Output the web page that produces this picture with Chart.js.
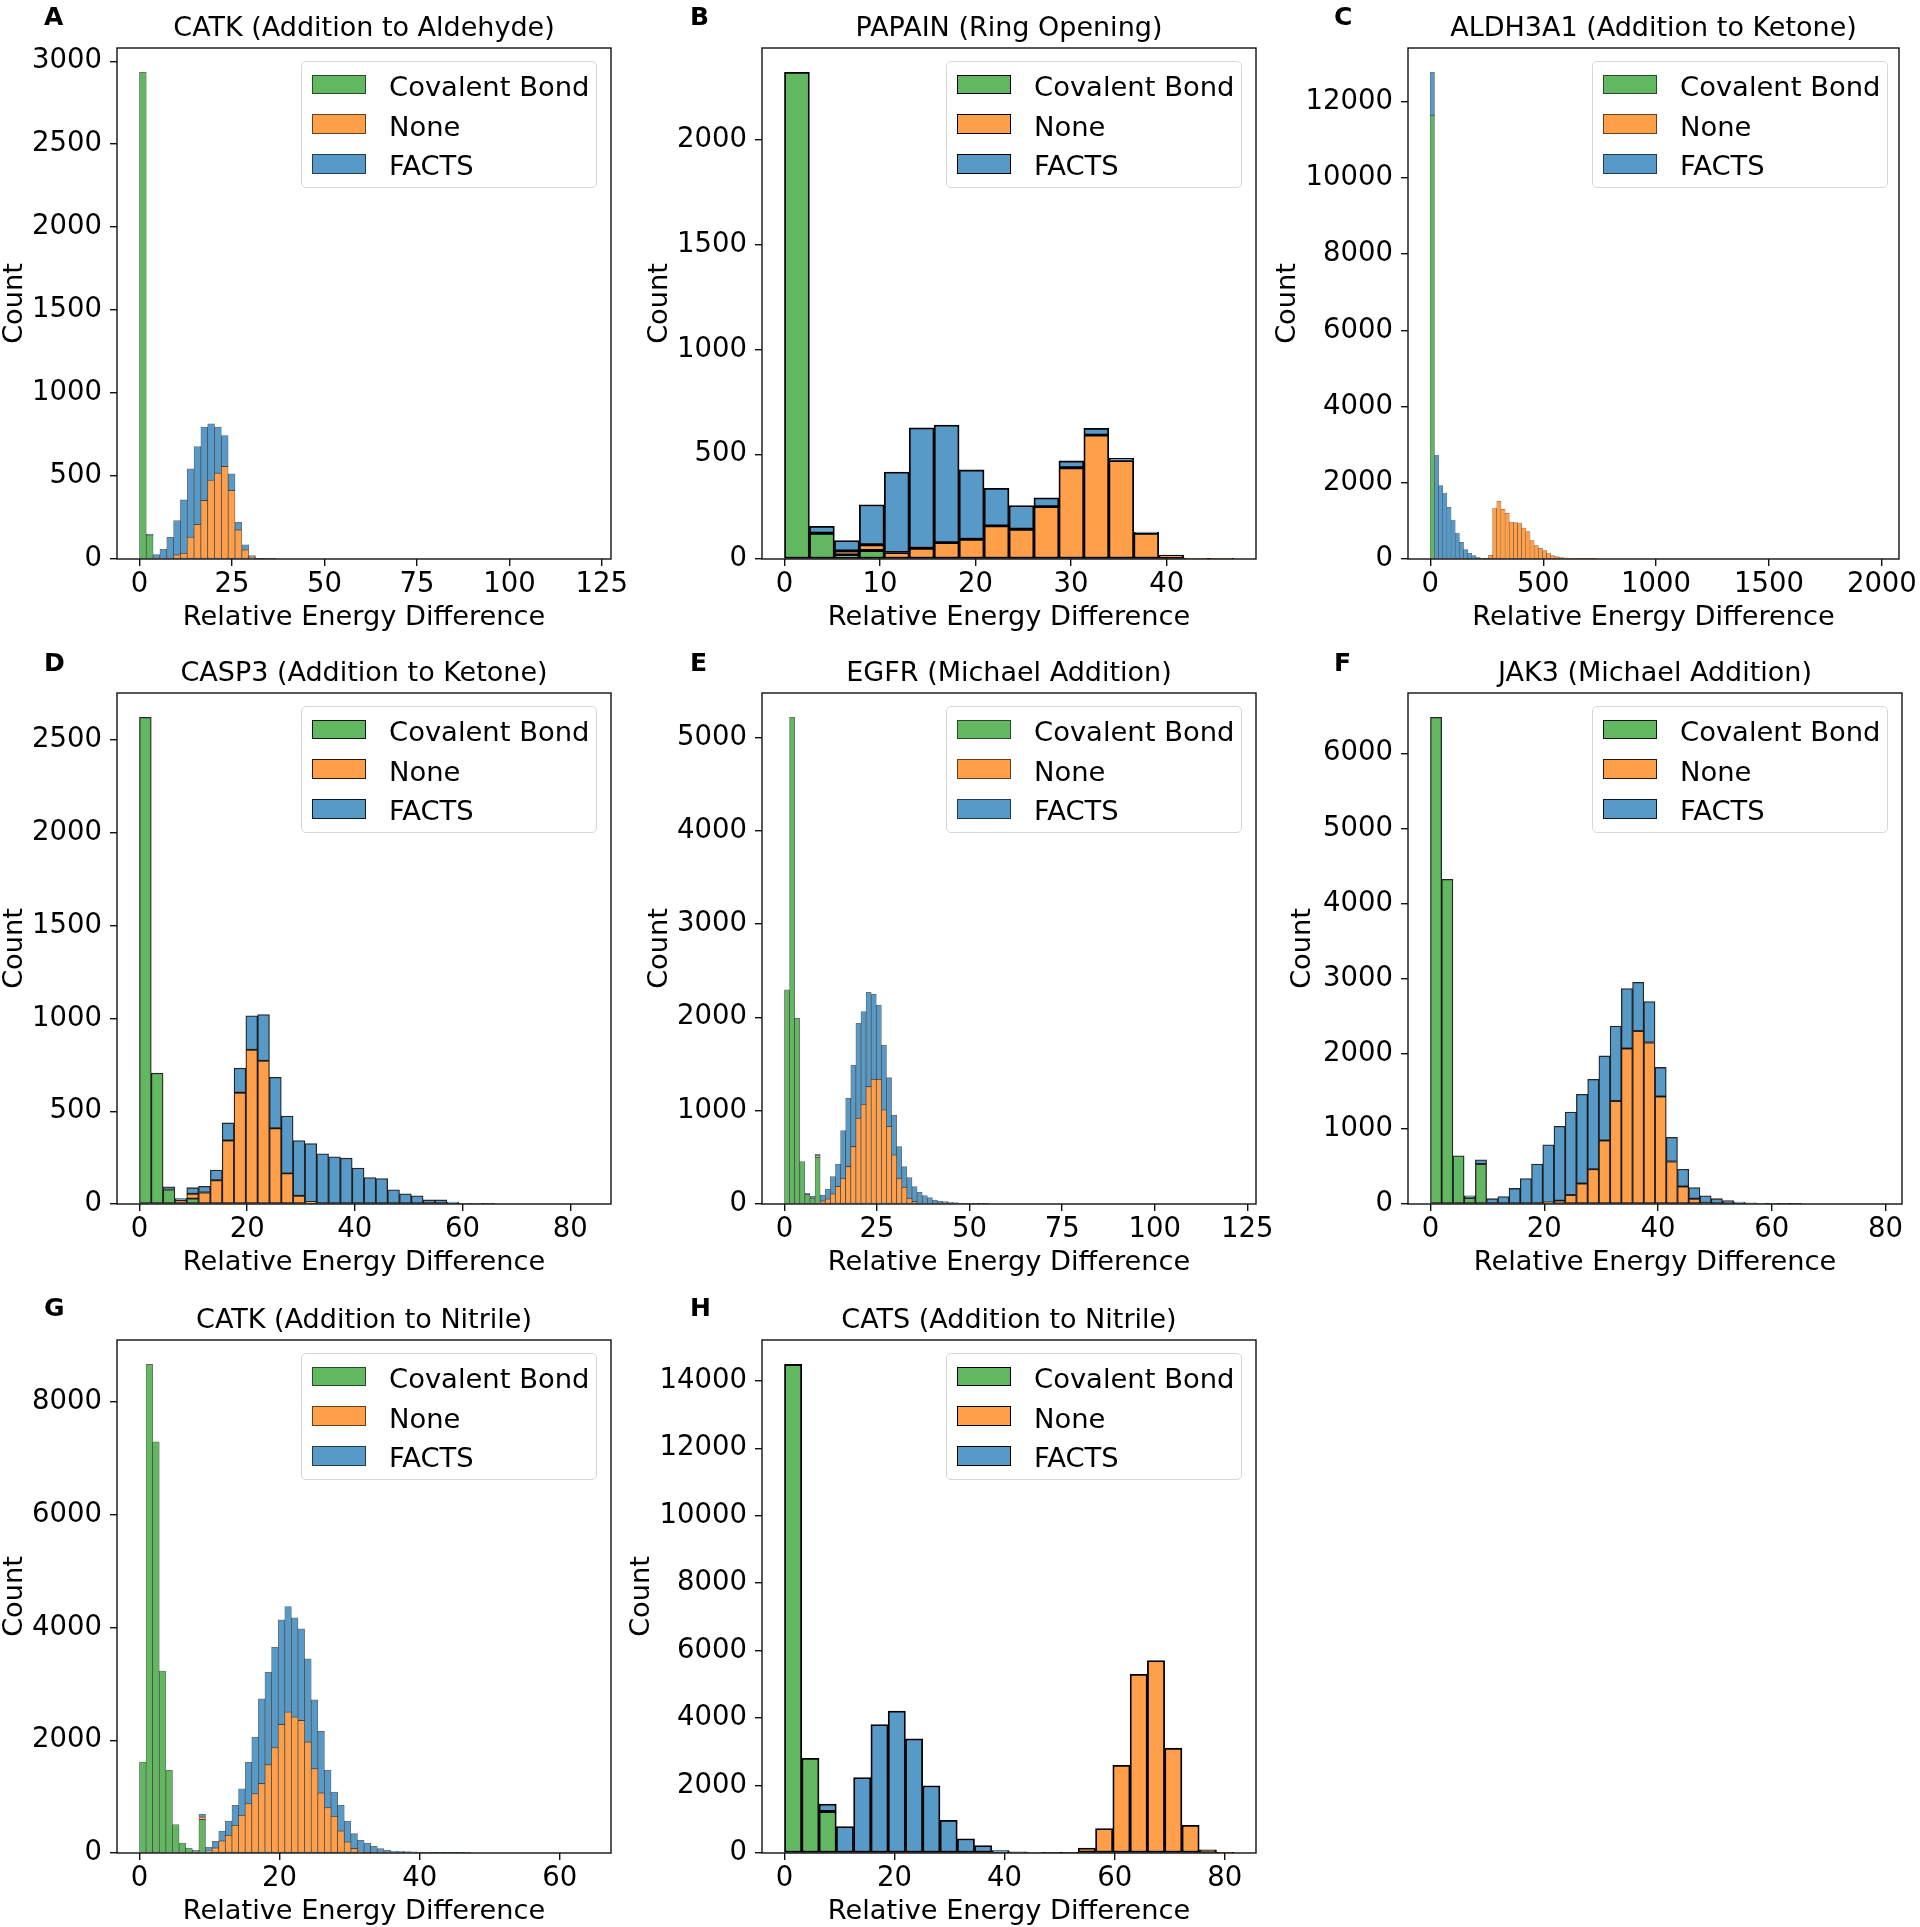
<!DOCTYPE html>
<html>
<head>
<meta charset="utf-8">
<script src="https://cdn.jsdelivr.net/npm/chart.js@4.4.1/dist/chart.umd.min.js"></script>
<style>
  html, body { margin: 0; padding: 0; background: #fff; }
  body { width: 1920px; height: 1927px; position: relative; overflow: hidden; font-family: 'DejaVu Sans', sans-serif; }
  canvas { position: absolute; }
  .letter { position: absolute; font-weight: bold; font-size: 25px; line-height: 25px; color: #000; }
  .legend { position: absolute; width: 296px; height: 127px; box-sizing: border-box; border: 1px solid #d6d6d6; border-radius: 5px; background: rgba(255,255,255,0.8); }
  .legend .sw { position: absolute; left: 10px; width: 54px; height: 19.5px; box-sizing: border-box; }
  .legend .tx { position: absolute; left: 87px; font-size: 27.4px; line-height: 27px; white-space: nowrap; color: #000; }
</style>
</head>
<body>
<script>
// series names, in stacking order (bottom first)
const seriesNames = ['Covalent Bond', 'None', 'FACTS'];

const titles = [
  'CATK (Addition to Aldehyde)', 'PAPAIN (Ring Opening)', 'ALDH3A1 (Addition to Ketone)',
  'CASP3 (Addition to Ketone)', 'EGFR (Michael Addition)', 'JAK3 (Michael Addition)',
  'CATK (Addition to Nitrile)', 'CATS (Addition to Nitrile)'
];
const letters = ['A', 'B', 'C', 'D', 'E', 'F', 'G', 'H'];

// histogram bin width and total binned span (0 .. span) per panel
const binWidths = [1.845, 2.611, 18.4, 2.195, 1.378, 1.974, 0.943, 3.14];
const spans = [121.4, 47.0, 1977, 83.4, 121.3, 78.95, 64.1, 81.6];

// counts per bin, starting at the first bin (0)
const covA = [2933, 145];
const noneA = [0, 0, 0, 0, 0, 24, 34, 131, 207, 352, 473, 517, 557, 412, 175, 54, 10, 2];
const factsA = [0, 5, 26, 60, 131, 207, 322, 412, 471, 443, 342, 278, 187, 101, 46, 31, 10, 2, 2, 1];

const covB = [2322, 123, 20, 41];
const noneB = [0, 0, 18, 27, 31, 51, 78, 94, 158, 142, 250, 435, 591, 470, 123, 19, 2, 2];
const factsB = [0, 33, 50, 191, 384, 575, 561, 331, 179, 113, 42, 33, 33, 10, 6, 0, 0, 0];

const covC = [11636];
const noneC = [0, 0, 0, 0, 0, 0, 0, 0, 0, 0, 0, 0, 0, 0, 96, 1339, 1514, 1304, 1199, 971, 954, 945, 814, 717,
  481, 350, 280, 219, 157, 87, 61, 44, 30, 20, 14, 10, 7, 5, 3, 2];
const factsC = [1137, 2730, 1925, 1732, 1356, 1024, 682, 437, 245, 149, 87, 44, 17, 9];

const covD = [2623, 705, 78, 0, 29];
const noneD = [0, 0, 0, 20, 26, 62, 128, 342, 600, 831, 772, 408, 165, 44, 11];
const factsD = [0, 0, 15, 9, 33, 33, 55, 95, 132, 183, 249, 275, 309, 298, 315, 271, 254, 247, 194, 143, 137,
  77, 55, 44, 22, 22, 11, 4, 3, 2];

const covE = [2295, 5215, 1990, 454, 100, 62, 500];
const noneE = [0, 0, 0, 0, 0, 0, 15, 32, 54, 107, 186, 275, 400, 614, 918, 1068, 1257, 1336, 1336, 1007, 829,
  525, 275, 179, 61, 25, 8];
const factsE = [0, 0, 0, 0, 14, 24, 21, 64, 107, 186, 243, 511, 732, 875, 1018, 993, 1011, 910, 796, 697, 525,
  429, 339, 221, 221, 161, 117, 89, 68, 43, 32, 25, 18, 14, 11, 7, 5, 4, 3, 2];

const covF = [6478, 4322, 642, 80, 533];
const noneF = [0, 0, 0, 0, 0, 0, 0, 0, 0, 0, 22, 44, 120, 272, 463, 844, 1372, 2069, 2303, 2150, 1432, 566,
  234, 71, 16];
const factsF = [0, 0, 0, 29, 55, 71, 98, 207, 338, 533, 767, 990, 1105, 1187, 1197, 1127, 996, 800, 647, 545,
  386, 321, 229, 147, 93, 71, 44, 27, 16, 10, 6, 4, 3];

const covG = [1613, 8665, 7291, 3226, 1468, 506, 177, 89, 40, 591];
const noneG = [0, 0, 0, 0, 0, 0, 0, 0, 0, 47, 35, 89, 213, 313, 490, 667, 874, 1051, 1229, 1565, 1867, 2280,
  2499, 2410, 2351, 1967, 1494, 1063, 803, 650, 390, 195, 77, 30, 8];
const factsG = [0, 0, 0, 0, 0, 0, 0, 0, 7, 47, 71, 118, 177, 254, 355, 473, 733, 1005, 1506, 1642, 1783, 1855,
  1872, 1760, 1624, 1477, 1223, 1093, 662, 431, 455, 372, 266, 194, 169, 118, 77, 47, 35, 30, 24, 20, 15,
  10, 8, 6, 5, 4, 3, 2];

const covH = [14486, 2805, 1233];
const noneH = [0, 0, 0, 0, 0, 0, 0, 0, 0, 0, 0, 0, 0, 0, 0, 0, 10, 145, 726, 2600, 5296, 5707, 3108, 822, 97, 10];
const factsH = [0, 0, 218, 786, 2237, 3809, 4208, 3386, 1995, 967, 423, 218, 73, 36, 15, 10, 5];

// tick labels
const xTicks = [
  [0, 25, 50, 75, 100, 125], [0, 10, 20, 30, 40], [0, 500, 1000, 1500, 2000],
  [0, 20, 40, 60, 80], [0, 25, 50, 75, 100, 125], [0, 20, 40, 60, 80],
  [0, 20, 40, 60], [0, 20, 40, 60, 80]
];
const yTicks = [
  [0, 500, 1000, 1500, 2000, 2500, 3000], [0, 500, 1000, 1500, 2000], [0, 2000, 4000, 6000, 8000, 10000, 12000],
  [0, 500, 1000, 1500, 2000, 2500], [0, 1000, 2000, 3000, 4000, 5000], [0, 1000, 2000, 3000, 4000, 5000, 6000],
  [0, 2000, 4000, 6000, 8000], [0, 2000, 4000, 6000, 8000, 10000, 12000, 14000]
];

const counts = [
  [covA, noneA, factsA], [covB, noneB, factsB], [covC, noneC, factsC], [covD, noneD, factsD],
  [covE, noneE, factsE], [covF, noneF, factsF], [covG, noneG, factsG], [covH, noneH, factsH]
];

// ---- layout / style ----
const COLORS = ['rgb(97,184,97)', 'rgb(255,159,74)', 'rgb(87,153,199)'];
const colLeft = [117, 762, 1408];
const rowTop = [48, 693, 1340];
const rowH = [511, 511, 513];
const AX_W = 494;
const LEFT = 140, TOP = 43, BOTTOM = 85;
const edgeW = [0.8, 1.8, 0.5, 1.3, 0.8, 1.3, 0.8, 1.8];
const edgeC = ['rgba(0,0,0,0.6)', '#000', 'rgba(0,0,0,0.6)', 'rgba(0,0,0,0.85)',
  'rgba(0,0,0,0.6)', 'rgba(0,0,0,0.85)', 'rgba(0,0,0,0.6)', '#000'];
const countOffset = [102.5, 102.5, 120.5, 102.5, 102.5, 105, 102.5, 120.5];

Chart.defaults.font.family = "'DejaVu Sans', sans-serif";
Chart.defaults.color = '#000';

const frame = {
  id: 'frame',
  afterDatasetsDraw(chart) {
    const { ctx, chartArea: a } = chart;
    ctx.save();
    ctx.strokeStyle = '#111';
    ctx.lineWidth = 1.4;
    ctx.strokeRect(a.left, a.top, a.right - a.left, a.bottom - a.top);
    ctx.restore();
  }
};

const binSeries = (arr, w) => arr.map((c, k) => ({ x: (k + 0.5) * w, y: c }));

titles.forEach((title, i) => {
  const col = i % 3, row = Math.floor(i / 3);
  const axL = colLeft[col], axT = rowTop[row], axH = rowH[row];
  const right = col === 2 ? 1920 - axL - AX_W : 40;

  const canvas = document.createElement('canvas');
  canvas.width = LEFT + AX_W + right;
  canvas.height = TOP + axH + BOTTOM;
  canvas.style.left = (axL - LEFT) + 'px';
  canvas.style.top = (axT - TOP) + 'px';
  document.body.appendChild(canvas);

  const w = binWidths[i], span = spans[i];
  const [cov, none, facts] = counts[i];
  const n = Math.max(cov.length, none.length, facts.length);
  let peak = 0;
  for (let k = 0; k < n; k++) peak = Math.max(peak, (cov[k] || 0) + (none[k] || 0) + (facts[k] || 0));

  new Chart(canvas, {
    type: 'bar',
    data: {
      datasets: counts[i].map((arr, s) => ({
        label: seriesNames[s],
        data: binSeries(arr, w),
        backgroundColor: COLORS[s]
      }))
    },
    options: {
      responsive: false,
      animation: false,
      devicePixelRatio: 1,
      layout: { padding: { left: 0, top: 0, bottom: 0, right: right } },
      datasets: {
        bar: {
          barPercentage: 1,
          categoryPercentage: 1,
          borderColor: edgeC[i],
          borderWidth: edgeW[i],
          borderSkipped: false
        }
      },
      plugins: {
        legend: { display: false },
        tooltip: { enabled: false },
        title: {
          display: true,
          text: title,
          fullSize: false,
          font: { size: 27, weight: 'normal', lineHeight: 1.2 },
          padding: { top: 7.6, bottom: 3.0 },
          color: '#000'
        }
      },
      scales: {
        x: {
          type: 'linear',
          stacked: true,
          offset: false,
          min: -0.05 * span,
          max: span * 1.05,
          afterBuildTicks: s => { s.ticks = xTicks[i].map(v => ({ value: v })); },
          afterFit: s => { s.height = BOTTOM; },
          ticks: { font: { size: 27.5, lineHeight: 1.2 }, padding: 2.4, maxRotation: 0, autoSkip: false, callback: v => String(v) },
          grid: { offset: false, drawOnChartArea: false, drawTicks: true, tickLength: 7, tickColor: '#111', tickWidth: 1.4, lineWidth: 1.4 },
          border: { display: false },
          title: { display: true, text: 'Relative Energy Difference', font: { size: 27.2, lineHeight: 1.2 }, padding: { top: 0, bottom: 9.8 } }
        },
        y: {
          stacked: true,
          min: 0,
          max: peak * 1.05,
          afterBuildTicks: s => { s.ticks = yTicks[i].map(v => ({ value: v })); },
          afterFit: s => { s.width = LEFT; },
          ticks: { font: { size: 27.5 }, padding: 8, autoSkip: false, callback: v => String(v) },
          grid: { drawOnChartArea: false, drawTicks: true, tickLength: 7, tickColor: '#111', tickWidth: 1.4, lineWidth: 1.4 },
          border: { display: false },
          title: { display: true, text: 'Count', font: { size: 27.2, lineHeight: 1 }, padding: { top: LEFT - countOffset[i] - 13.6, bottom: 0 } }
        }
      }
    },
    plugins: [frame]
  });

  // panel letter
  const lt = document.createElement('div');
  lt.className = 'letter';
  lt.textContent = letters[i];
  lt.style.left = [44, 690, 1334][col] + 'px';
  lt.style.top = [4.1, 650.1, 1295.1][row] + 'px';
  document.body.appendChild(lt);

  // legend box inside the axes, upper right
  const lg = document.createElement('div');
  lg.className = 'legend';
  lg.style.left = (axL + AX_W - 14 - 296) + 'px';
  lg.style.top = (axT + 13.4) + 'px';
  seriesNames.forEach((name, s) => {
    const sw = document.createElement('div');
    sw.className = 'sw';
    sw.style.top = (12.3 + 39.7 * s) + 'px';
    sw.style.background = COLORS[s];
    sw.style.border = edgeW[i] + 'px solid ' + edgeC[i];
    lg.appendChild(sw);
    const tx = document.createElement('div');
    tx.className = 'tx';
    tx.style.top = (10.5 + 39.7 * s) + 'px';
    tx.textContent = name;
    lg.appendChild(tx);
  });
  document.body.appendChild(lg);
});
</script>
</body>
</html>
